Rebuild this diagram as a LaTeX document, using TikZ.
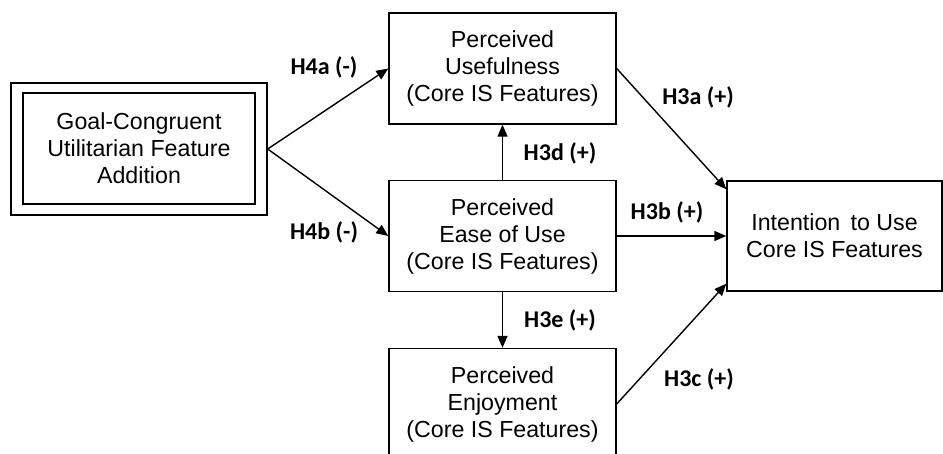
\documentclass[tikz,border=0pt]{standalone}
\usepackage{fontspec}
\setmainfont{Liberation Sans}
\newfontfamily\labelfont{Carlito}
\usetikzlibrary{arrows.meta}
\begin{document}
\begin{tikzpicture}[x=0.5pt,y=-0.5pt,
  box/.style={draw,line width=0.7pt,minimum width=113.5pt,minimum height=55.5pt,
    align=center,inner sep=0pt,font=\fontsize{11.6}{13.5}\selectfont},
  link/.style={-{Triangle[length=6pt,width=5pt]},line width=0.7pt},
  hyp/.style={font=\labelfont\bfseries\fontsize{12}{14}\selectfont,inner sep=0pt}]
\useasboundingbox (0,0) rectangle (943,454);
\clip (0,0) rectangle (943,454);

% antecedent: double-framed box
\node[box,minimum width=128pt,minimum height=66pt] (goal) at (139,149) {};
\node[box,minimum width=116pt,minimum height=55.5pt] (goalin) at (139,148.5)
  {Goal-Congruent\\Utilitarian Feature\\Addition};

% mediators
\node[box] (pu)   at (502.5,68.5) {Perceived\\Usefulness\\(Core IS Features)};
\node[box] (peou) at (502.5,236)  {Perceived\\Ease of Use\\(Core IS Features)};
\node[box] (pe)   at (502.5,404)  {Perceived\\Enjoyment\\(Core IS Features)};

% outcome
\node[box,minimum width=107.5pt,minimum height=55pt] (int) at (834.5,236)
  {Intention\, to Use\\Core IS Features};

% connectors
\draw[link] (goal.east) -- (pu.west);
\draw[link] (goal.east) -- (peou.west);
\draw[link] (peou.north) -- (pu.south);
\draw[link] (peou.south) -- (pe.north);
\draw[link] (pu.east) -- ([yshift=-4.5pt]int.north west);
\draw[link] (peou.east) -- (int.west);
\draw[link] (pe.east) -- ([yshift=4pt]int.south west);

% hypothesis labels
\node[hyp] (h4a) at (324,67)  {H4a (-)};
\node[hyp] (h4b) at (324,232) {H4b (-)};
\node[hyp] (h3d) at (560,153) {H3d (+)};
\node[hyp] (h3e) at (560,320) {H3e (+)};
\node[hyp] (h3a) at (698,97)  {H3a (+)};
\node[hyp] (h3b) at (667,212) {H3b (+)};
\node[hyp] (h3c) at (699,379) {H3c (+)};
\end{tikzpicture}
\end{document}
